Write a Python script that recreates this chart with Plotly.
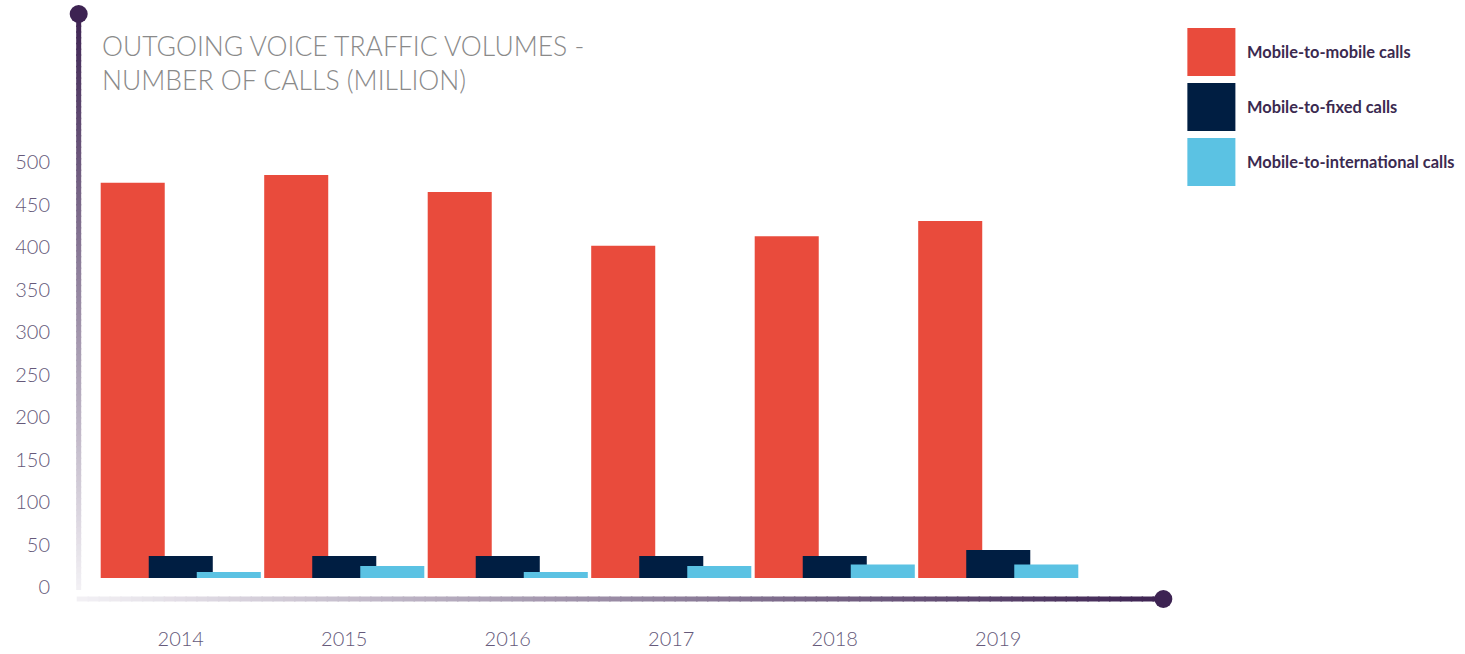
import plotly.graph_objects as go

# ---- data ----
years = ["2014", "2015", "2016", "2017", "2018", "2019"]
mobile_to_mobile = [465, 474, 454, 391, 402, 420]
mobile_to_fixed = [26, 26, 26, 26, 26, 33]
mobile_to_international = [7, 14, 7, 14, 16, 16]
series_names = ["Mobile-to-mobile calls", "Mobile-to-fixed calls", "Mobile-to-international calls"]
y_ticks = [0, 50, 100, 150, 200, 250, 300, 350, 400, 450, 500]
title_text = "OUTGOING VOICE TRAFFIC VOLUMES -<br>NUMBER OF CALLS (MILLION)"

# ---- style ----
W, H = 1465, 654
L, R_, T, B = 99.3, 385.3, 100, 76
PW, PH = W - L - R_, H - T - B
RED, NAVY, CYAN = "#E94B3C", "#001E42", "#5BC2E3"
DARK = (61, 35, 82)
LIGHT = (243, 241, 245)
colors = [RED, NAVY, CYAN]
bar_w = 0.3917
offsets = [-0.4896, -0.1958, 0.0979]
TICK_COLOR = "#65597A"

def px(x):
    return (x - L) / PW

def py(y):
    return (H - B - y) / PH

def mix(t):
    c = [round(LIGHT[i] + (DARK[i] - LIGHT[i]) * t) for i in range(3)]
    return f"rgb({c[0]},{c[1]},{c[2]})"

fig = go.Figure()
for name, vals, col, off in zip(series_names,
                                [mobile_to_mobile, mobile_to_fixed, mobile_to_international],
                                colors, offsets):
    fig.add_trace(go.Bar(x=years, y=vals, name=name, marker_color=col,
                         marker_line_width=0, width=bar_w, offset=off,
                         showlegend=False, hoverinfo="x+y+name"))

shapes = []
N = 100
# vertical gradient axis line
y_top, y_bot, xv = 14, 590, 79
for i in range(N):
    ya = y_top + (y_bot - y_top) * i / N
    yb = min(y_bot, y_top + (y_bot - y_top) * (i + 1) / N + 1.5)
    t = 1 - (i + 0.5) / N
    shapes.append(dict(type="line", xref="paper", yref="paper",
                       x0=px(xv), x1=px(xv), y0=py(ya), y1=py(yb),
                       line=dict(color=mix(t), width=5), layer="below"))
# horizontal gradient axis line
x_left, x_right, yh = 77, 1163, 599
for i in range(N):
    xa = x_left + (x_right - x_left) * i / N
    xb = min(x_right, x_left + (x_right - x_left) * (i + 1) / N + 1.5)
    t = (i + 0.5) / N
    shapes.append(dict(type="line", xref="paper", yref="paper",
                       x0=px(xa), x1=px(xb), y0=py(yh), y1=py(yh),
                       line=dict(color=mix(t), width=5), layer="below"))
# end circles
for cx, cy in [(xv, y_top), (x_right, yh)]:
    shapes.append(dict(type="circle", xref="paper", yref="paper",
                       xsizemode="pixel", ysizemode="pixel",
                       xanchor=px(cx), yanchor=py(cy),
                       x0=-9, x1=9, y0=-9, y1=9,
                       fillcolor="rgb(61,35,82)", line_width=0))
# legend swatches
annotations = []
sw_tops = [28, 83, 138]
for name, col, top in zip(series_names, colors, sw_tops):
    shapes.append(dict(type="rect", xref="paper", yref="paper",
                       x0=px(1187), x1=px(1235), y0=py(top), y1=py(top + 48),
                       fillcolor=col, line_width=0))
    annotations.append(dict(text=name, xref="paper", yref="paper",
                            x=px(1245), y=py(top + 24), xanchor="left", yanchor="middle",
                            showarrow=False,
                            font=dict(family="Lato", size=16.4, weight=700, color="#3B2A50")))

annotations.append(dict(text=title_text, xref="paper", yref="paper",
                        x=px(100), y=py(63), xanchor="left", yanchor="middle",
                        align="left", showarrow=False,
                        font=dict(family="Lato", size=26.5, weight=300, color="#8A8A8A")))

fig.update_layout(
    width=W, height=H,
    margin=dict(l=L, r=R_, t=T, b=B, autoexpand=False),
    paper_bgcolor="white", plot_bgcolor="white",
    barmode="overlay",
    shapes=shapes, annotations=annotations,
    xaxis=dict(type="category", range=[-0.5, 5.5], showgrid=False, zeroline=False,
               showline=False, ticks="outside", ticklen=43, tickcolor="rgba(0,0,0,0)",
               tickfont=dict(family="Lato", size=20, weight=300, color=TICK_COLOR)),
    yaxis=dict(range=[0, PH / 0.85], showgrid=False, zeroline=False, showline=False,
               tickvals=y_ticks, ticks="outside", ticklen=44, tickcolor="rgba(0,0,0,0)",
               ticklabelshift=9,
               tickfont=dict(family="Lato", size=20, weight=300, color=TICK_COLOR)),
)

fig.write_html("out.html", post_script="document.body.style.margin='0';",
               config={"displayModeBar": False})
